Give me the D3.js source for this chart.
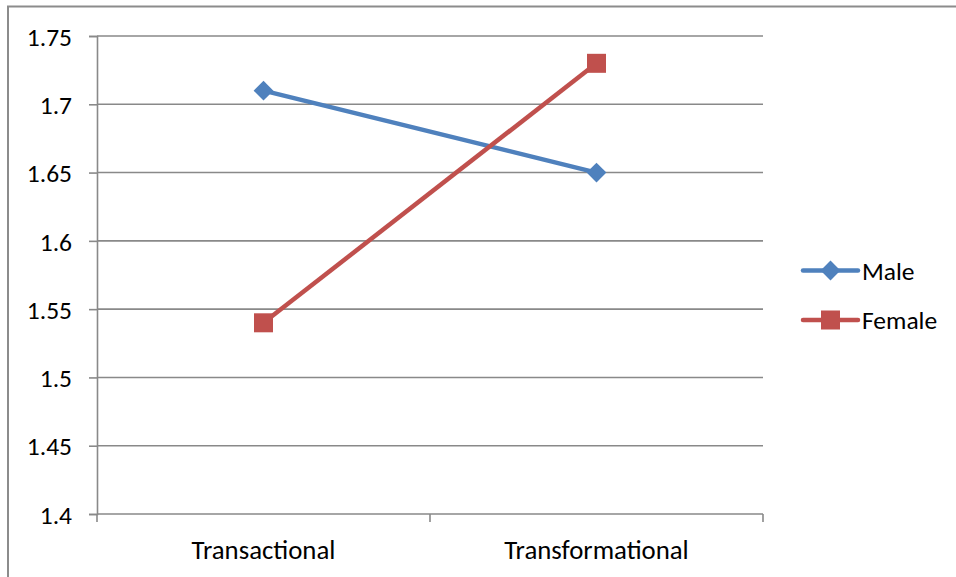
<!DOCTYPE html>
<html>
<head>
<meta charset="utf-8">
<script src="https://cdn.jsdelivr.net/npm/d3@7"></script>
<style>
  html, body { margin: 0; padding: 0; background: #fff; }
  svg text { font-family: Carlito, Lato, "Open Sans", sans-serif; fill: #000; }
</style>
</head>
<body>
<svg id="chart" width="956" height="577"></svg>
<script>
// Leadership style means by gender
const categories = ["Transactional", "Transformational"];
const maleValues = [1.71, 1.65];
const femaleValues = [1.54, 1.73];
const seriesNames = ["Male", "Female"];
const yTicks = [1.4, 1.45, 1.5, 1.55, 1.6, 1.65, 1.7, 1.75];

const svg = d3.select("#chart");
const plot = { left: 97, right: 763, top: 36, bottom: 514 };
const fontSize = "25.5px";
const catFontSize = "26.8px";

const x = d3.scaleBand().domain(categories).range([plot.left, plot.right]).padding(0);
const y = d3.scaleLinear().domain([1.4, 1.75]).range([plot.bottom, plot.top]);

// outer chart border
svg.append("rect")
  .attr("x", 8).attr("y", 6.5).attr("width", 960).attr("height", 600)
  .attr("fill", "none").attr("stroke", "#8c8c8c").attr("stroke-width", 2);

// horizontal gridlines
svg.append("g").selectAll("line").data(yTicks.slice(1)).join("line")
  .attr("x1", plot.left).attr("x2", plot.right)
  .attr("y1", d => y(d)).attr("y2", d => y(d))
  .attr("stroke", "#898989").attr("stroke-width", 1.6);

// y axis
const yAxis = svg.append("g")
  .attr("transform", `translate(${plot.left},0)`)
  .call(d3.axisLeft(y).tickValues(yTicks).tickFormat(d => String(+d.toFixed(2))).tickSize(8).tickPadding(17));
yAxis.select(".domain").attr("stroke", "#898989").attr("stroke-width", 1.6);
yAxis.selectAll(".tick line").attr("stroke", "#898989").attr("stroke-width", 1.6);
yAxis.selectAll(".tick text").style("font-size", fontSize).attr("dy", "0.36em");

// x axis with boundary ticks between categories
const xAxisG = svg.append("g").attr("transform", `translate(0,${plot.bottom})`);
xAxisG.append("line").attr("x1", plot.left).attr("x2", plot.right)
  .attr("stroke", "#898989").attr("stroke-width", 1.6);
const boundaries = [plot.left].concat(categories.map(c => x(c) + x.bandwidth()));
xAxisG.selectAll("line.b").data(boundaries).join("line").attr("class", "b")
  .attr("x1", d => d).attr("x2", d => d).attr("y1", 0).attr("y2", 8)
  .attr("stroke", "#898989").attr("stroke-width", 1.6);
xAxisG.selectAll("text").data(categories).join("text")
  .attr("x", d => x(d) + x.bandwidth() / 2).attr("y", 44.5)
  .attr("text-anchor", "middle").style("font-size", catFontSize).text(d => d);

const cx = d => x(d) + x.bandwidth() / 2;
const line = d3.line().x(d => cx(d.c)).y(d => y(d.v));
const colors = ["#4f81bd", "#c0504d"];
const data = [maleValues, femaleValues].map(vals => categories.map((c, i) => ({ c, v: vals[i] })));

data.forEach((pts, si) => {
  svg.append("path").datum(pts).attr("d", line)
    .attr("fill", "none").attr("stroke", colors[si]).attr("stroke-width", 4.5);
});

function drawMarker(g, si, px, py) {
  if (si === 0) {
    g.append("rect").attr("x", px - 7).attr("y", py - 7).attr("width", 14).attr("height", 14)
      .attr("transform", `rotate(45,${px},${py})`).attr("fill", colors[0]);
  } else {
    g.append("rect").attr("x", px - 9.5).attr("y", py - 9.5).attr("width", 19).attr("height", 19)
      .attr("fill", colors[1]);
  }
}
const markers = svg.append("g");
data.forEach((pts, si) => pts.forEach(p => drawMarker(markers, si, cx(p.c), y(p.v))));

// legend
const legend = svg.append("g");
seriesNames.forEach((name, i) => {
  const ly = 270.5 + i * 49.5;
  legend.append("line").attr("x1", 803).attr("x2", 858).attr("y1", ly).attr("y2", ly)
    .attr("stroke", colors[i]).attr("stroke-width", 4.5).attr("stroke-linecap", "round");
  drawMarker(legend, i, 830.5, ly);
  legend.append("text").attr("x", 862).attr("y", ly).attr("dy", "0.36em")
    .style("font-size", fontSize).text(name);
});
</script>
</body>
</html>
